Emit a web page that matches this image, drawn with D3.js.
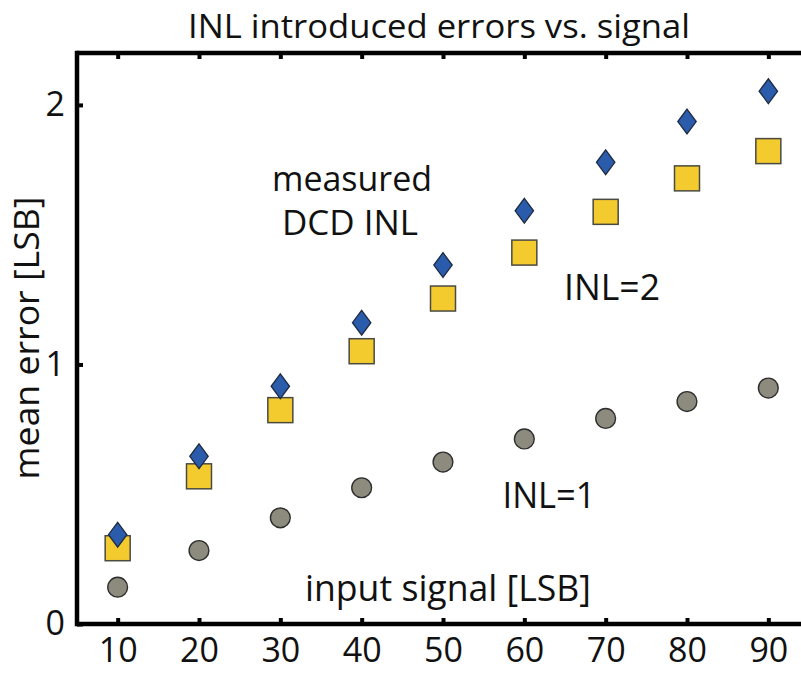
<!DOCTYPE html>
<html><head><meta charset="utf-8">
<script src="https://cdn.jsdelivr.net/npm/d3@7"></script>
<style>
html,body{margin:0;padding:0;background:#fff;}
svg text{font-family:"Open Sans","Noto Sans",sans-serif;fill:#111;}
</style></head>
<body><svg id="c" width="801" height="674"></svg>
<script>
const inputSignal = [10, 20, 30, 40, 50, 60, 70, 80, 90];
const measuredDCD = [0.344, 0.646, 0.916, 1.161, 1.383, 1.592, 1.779, 1.936, 2.053];
const inl2 = [0.292, 0.569, 0.824, 1.051, 1.254, 1.431, 1.588, 1.717, 1.822];
const inl1 = [0.142, 0.283, 0.409, 0.525, 0.624, 0.713, 0.792, 0.857, 0.909];
const xTicks = [10, 20, 30, 40, 50, 60, 70, 80, 90];
const yTicks = [0, 1, 2];

const svg = d3.select("#c");
const x = d3.scaleLinear().domain([5, 95]).range([77, 809]);
const y = d3.scaleLinear().domain([0, 2.2]).range([624, 53]);

// frame lines
const frame = svg.append("g").attr("stroke", "#000").attr("stroke-width", 4.5).attr("fill", "none");
frame.append("line").attr("x1", x(5)).attr("x2", x(95)).attr("y1", y(2.2)).attr("y2", y(2.2));
frame.append("line").attr("x1", x(5)).attr("x2", x(95)).attr("y1", y(0)).attr("y2", y(0));
frame.append("line").attr("x1", x(5)).attr("x2", x(5)).attr("y1", y(2.2) - 2.2).attr("y2", y(0) + 2.2);

// ticks via axes
const fontSize = 34;
const axBottom = svg.append("g").attr("transform", `translate(0,${y(0)})`)
  .call(d3.axisBottom(x).tickValues(xTicks).tickSize(-6).tickPadding(14).tickFormat(d3.format("d")));
const axTop = svg.append("g").attr("transform", `translate(0,${y(2.2)})`)
  .call(d3.axisTop(x).tickValues(xTicks).tickSize(-6).tickFormat(""));
const axLeft = svg.append("g").attr("transform", `translate(${x(5)},0)`)
  .call(d3.axisLeft(y).tickValues(yTicks).tickSize(-6).tickPadding(12).tickFormat(d3.format("d")));
[axBottom, axTop, axLeft].forEach(g => {
  g.select(".domain").remove();
  g.selectAll(".tick line").attr("stroke", "#000").attr("stroke-width", 4);
  g.selectAll(".tick text").attr("font-size", fontSize).attr("fill", "#111")
    .style("font-family", '"Open Sans","Noto Sans",sans-serif');
});
axBottom.selectAll(".tick text").attr("dy", "0.71em");

// markers
const pts = (vals) => inputSignal.map((d, i) => ({ x: d, y: vals[i] }));
svg.append("g").selectAll("circle").data(pts(inl1)).join("circle")
  .attr("cx", d => x(d.x)).attr("cy", d => y(d.y)).attr("r", 9.9)
  .attr("fill", "#8c8b7d").attr("stroke", "#2e2e2e").attr("stroke-width", 1.4);
const sq = 25;
svg.append("g").selectAll("rect").data(pts(inl2)).join("rect")
  .attr("x", d => x(d.x) - sq / 2).attr("y", d => y(d.y) - sq / 2).attr("width", sq).attr("height", sq)
  .attr("fill", "#f4cb2f").attr("stroke", "#4a4a40").attr("stroke-width", 1.5);
const dw = 9.2, dh = 12.4;
svg.append("g").selectAll("path").data(pts(measuredDCD)).join("path")
  .attr("d", d => {
    const cx = x(d.x), cy = y(d.y);
    return `M${cx},${cy - dh}L${cx + dw},${cy}L${cx},${cy + dh}L${cx - dw},${cy}Z`;
  })
  .attr("fill", "#2b5cab").attr("stroke", "#1e2a40").attr("stroke-width", 1.3);

// texts
function label(txt, cx, by, size, len, rot) {
  const t = svg.append("text").text(txt).attr("font-size", size).attr("text-anchor", "middle");
  if (rot) {
    t.attr("transform", `translate(${cx},${by}) rotate(-90)`);
  } else {
    t.attr("x", cx).attr("y", by);
  }
  if (len) t.attr("textLength", len).attr("lengthAdjust", "spacingAndGlyphs");
  return t;
}
label("INL introduced errors vs. signal", 439, 38, 33, 502);
label("measured", 352, 191, 35, 160);
label("DCD INL", 350, 235, 35, 136);
label("INL=2", 612, 300, 36, 96);
label("INL=1", 549, 508, 36, 93);
label("input signal [LSB]", 448, 601, 36, 286);
label("mean error [LSB]", 39, 338, 35, 283, true);
</script></body></html>
